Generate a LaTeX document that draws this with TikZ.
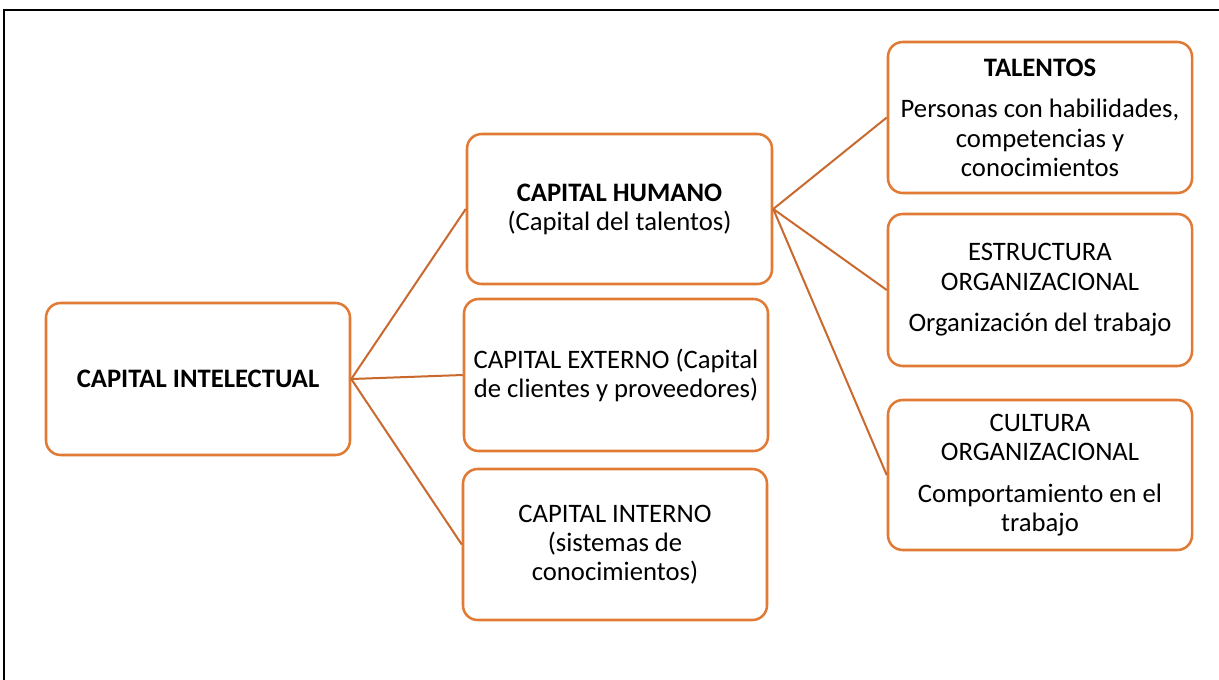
\documentclass[tikz,border=0pt]{standalone}
\usepackage{fontspec}
\setmainfont{Carlito}
\definecolor{boxor}{HTML}{E07A35}
\definecolor{lineor}{HTML}{C9692E}
\begin{document}
\begin{tikzpicture}[x=0.75pt,y=-0.75pt,
  box/.style={draw=boxor, line width=1.9pt, rounded corners=11pt, align=center,
    font=\fontsize{20}{21.8}\selectfont, inner sep=0pt, fill=white},
  conn/.style={draw=lineor, line width=1.5pt}]
\useasboundingbox (0,0) rectangle (1219,679);
\fill[white] (0,0) rectangle (1219,679);
\draw[line width=1.6pt] (4,700) -- (4,10) -- (1240,10);

\node[box, minimum width=228pt, minimum height=114pt] (ci) at (198,379) {\bfseries CAPITAL INTELECTUAL};
\node[box, minimum width=228.75pt, minimum height=112.5pt] (ch) at (619.5,209) {\bfseries CAPITAL HUMANO\\(Capital del talentos)};
\node[box, minimum width=228pt, minimum height=114pt] (ce) at (616,375) {CAPITAL EXTERNO (Capital\\de clientes y proveedores)};
\node[box, minimum width=228pt, minimum height=113.25pt] (cin) at (615,544.5) {CAPITAL INTERNO\\(sistemas de\\conocimientos)};
\node[box, minimum width=228pt, minimum height=113.25pt] (ta) at (1040,117.5) {\textbf{TALENTOS}\\[9.5pt]Personas con habilidades,\\competencias y\\conocimientos};
\node[box, minimum width=228pt, minimum height=114pt] (es) at (1040,290) {ESTRUCTURA\\ORGANIZACIONAL\\[9.5pt]Organización del trabajo};
\node[box, minimum width=228pt, minimum height=112.5pt] (cu) at (1040,475) {CULTURA\\ORGANIZACIONAL\\[9.5pt]Comportamiento en el\\trabajo};

\draw[conn] (ci.east) -- (ch.west);
\draw[conn] (ci.east) -- (ce.west);
\draw[conn] (ci.east) -- (cin.west);
\draw[conn] (ch.east) -- (ta.west);
\draw[conn] (ch.east) -- (es.west);
\draw[conn] (ch.east) -- (cu.west);
\end{tikzpicture}
\end{document}
